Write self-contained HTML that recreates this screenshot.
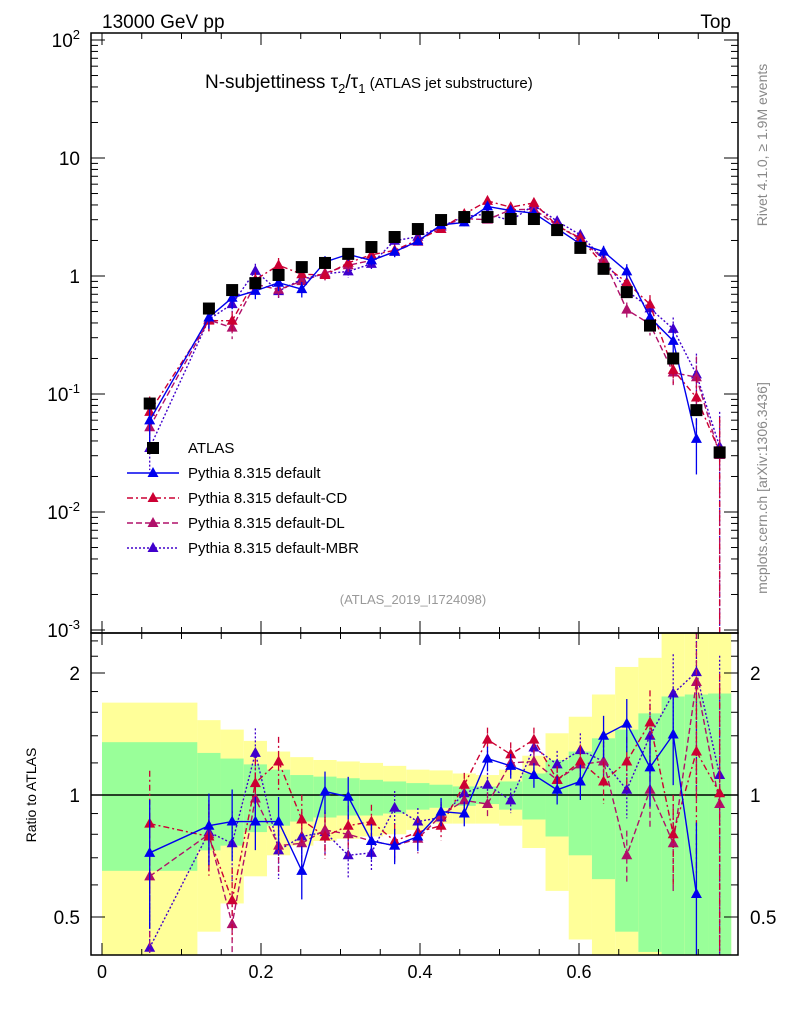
<!DOCTYPE html>
<html><head><meta charset="utf-8"><style>
html,body{margin:0;padding:0;background:#fff;overflow:hidden;width:786px;height:1024px;}
svg{display:block;overflow:hidden;}
svg text{font-family:"Liberation Sans",sans-serif;}
</style></head><body>
<svg id="c" width="786" height="1024" viewBox="0 0 786 1024" xmlns="http://www.w3.org/2000/svg">
<g id="bands"></g>
<g id="marks"></g>
<g id="axes"></g>
<text x="102" y="28" font-size="19">13000 GeV pp</text>
<text x="731" y="28" font-size="19" text-anchor="end">Top</text>
<text x="205" y="88" font-size="19">N-subjettiness τ<tspan font-size="13" dy="5">2</tspan><tspan dy="-5">/τ</tspan><tspan font-size="13" dy="5">1</tspan><tspan font-size="15" dy="-5"> (ATLAS jet substructure)</tspan></text>
<text x="413" y="604" font-size="13" fill="#999" text-anchor="middle">(ATLAS_2019_I1724098)</text>
<text transform="translate(767,145) rotate(-90)" font-size="14" fill="#888" text-anchor="middle">Rivet 4.1.0, ≥ 1.9M events</text>
<text transform="translate(767,488) rotate(-90)" font-size="14" fill="#888" text-anchor="middle">mcplots.cern.ch [arXiv:1306.3436]</text>
<text transform="translate(36,795) rotate(-90)" font-size="14" text-anchor="middle">Ratio to ATLAS</text>
<g id="legend"></g>
</svg>
<script>
const xCenters=[0.06,0.1345,0.1637,0.1929,0.2221,0.2513,0.2805,0.3097,0.3389,0.3681,0.3973,0.4265,0.4557,0.4849,0.5141,0.5433,0.5725,0.6017,0.6309,0.6601,0.6893,0.7185,0.7477,0.7769];
const atlasValues=[0.083,0.53,0.76,0.87,1.02,1.19,1.29,1.54,1.76,2.14,2.5,2.98,3.16,3.16,3.04,3.04,2.45,1.73,1.15,0.73,0.38,0.2,0.073,0.032];
const ratioDefault=[0.72,0.84,0.86,0.86,0.86,0.65,1.02,0.99,0.77,0.75,0.79,0.91,0.90,1.23,1.18,1.12,1.03,1.08,1.40,1.50,1.17,1.41,0.57,null];
const ratioCD=[0.85,0.79,0.55,1.07,1.21,0.87,0.79,0.84,0.86,0.77,0.81,0.84,1.06,1.37,1.26,1.37,1.09,1.21,1.08,1.21,1.51,0.80,1.28,1.01];
const ratioDL=[0.63,0.80,0.48,0.98,0.75,0.76,0.82,0.80,0.77,0.75,0.78,0.89,0.97,0.95,1.20,1.21,1.09,1.19,1.21,0.71,1.03,0.76,1.9,0.95];
const ratioMBR=[0.42,0.81,0.76,1.27,0.73,0.79,0.81,0.71,0.72,0.93,0.86,0.88,1.01,1.06,0.97,1.31,1.19,1.29,1.21,1.03,1.40,1.78,2.01,1.12];
const mcRelErr=[0.35,0.2,0.2,0.15,0.15,0.15,0.12,0.12,0.1,0.1,0.08,0.08,0.07,0.07,0.07,0.07,0.08,0.1,0.12,0.15,0.2,0.25,0.5,0.97];
const greenHi=[1.35,1.27,1.23,1.19,1.155,1.12,1.11,1.10,1.09,1.08,1.07,1.06,1.05,1.05,1.08,1.13,1.22,1.28,1.38,1.45,1.59,1.75,1.77,1.78];
const greenLo=[0.65,0.73,0.75,0.81,0.84,0.86,0.88,0.89,0.89,0.90,0.92,0.93,0.94,0.95,0.92,0.87,0.79,0.71,0.62,0.46,0.41,0.3,0.3,0.3];
const yellowHi=[1.69,1.53,1.45,1.36,1.28,1.24,1.22,1.21,1.20,1.18,1.155,1.15,1.13,1.12,1.155,1.25,1.42,1.56,1.77,2.07,2.18,3,3,3];
const yellowLo=[0.3,0.46,0.54,0.63,0.71,0.75,0.77,0.78,0.79,0.80,0.82,0.85,0.85,0.85,0.84,0.74,0.58,0.44,0.3,0.3,0.3,0.3,0.3,0.3];
const mainTicks=["10^2","10","1","10^-1","10^-2","10^-3"];
const ratioTicks=[2,1,0.5];
const xTicks=[0,0.2,0.4,0.6];

const NS="http://www.w3.org/2000/svg";
const L=91,R=738,MT=33,MB=633,RB=955;
const X=v=>102+795*v;
const Ym=v=>276-118*Math.log10(v);
const Yr=v=>795-122*Math.log2(v);
const cM=y=>Math.max(MT,Math.min(MB,y));
const cR=y=>Math.max(MB,Math.min(RB,y));
function el(t,a,p){const e=document.createElementNS(NS,t);for(const k in a)e.setAttribute(k,a[k]);p.appendChild(e);return e;}
const bands=document.getElementById('bands'),marks=document.getElementById('marks'),axes=document.getElementById('axes'),leg=document.getElementById('legend');
xCenters.forEach((c,i)=>{
  const lo=i==0?0:c-0.0146, hi=c+(i==0?0.06:0.0146);
  const y=el('rect',{x:X(lo),y:cR(Yr(yellowHi[i])),width:X(hi)-X(lo),height:cR(Yr(yellowLo[i]))-cR(Yr(yellowHi[i])),fill:'#ffff99'},bands);
  
  
  const g=el('rect',{x:X(lo),y:cR(Yr(greenHi[i])),width:X(hi)-X(lo),height:cR(Yr(greenLo[i]))-cR(Yr(greenHi[i])),fill:'#99ff99'},bands);
  
  
});
el('line',{x1:L,x2:R,y1:Yr(1),y2:Yr(1),stroke:'#000','stroke-width':1.5},bands);
const series=[
 {name:'default',r:ratioDefault,c:'#0000ee',d:''},
 {name:'default-CD',r:ratioCD,c:'#cc0033',d:'6,3,2,3'},
 {name:'default-DL',r:ratioDL,c:'#b0106a',d:'6,3'},
 {name:'default-MBR',r:ratioMBR,c:'#4000cc',d:'2,2'}
];
function tri(x,y,c,p,nm){const t=el('polygon',{points:`${x},${y-6} ${x-5.5},${y+4} ${x+5.5},${y+4}`,fill:c},p);return t;}
const gm=el('g',{},marks), gr=el('g',{},marks);
series.slice().reverse().forEach(s=>{
  let pm=[],pr=[];
  s.r.forEach((r,i)=>{if(r==null)return;const x=X(xCenters[i]);const v=r*atlasValues[i];const e=mcRelErr[i];
    pm.push(x+','+cM(Ym(v)));pr.push(x+','+cR(Yr(r)));
    const lo=Math.max(v*(1-e),1e-6), rlo=Math.max(r*(1-e),1e-3);
    el('line',{x1:x,x2:x,y1:cM(Ym(v*(1+e))),y2:cM(Ym(lo)),stroke:s.c,'stroke-width':1.3,'stroke-dasharray':s.d},gm);
    el('line',{x1:x,x2:x,y1:cR(Yr(r*(1+e))),y2:cR(Yr(rlo)),stroke:s.c,'stroke-width':1.3,'stroke-dasharray':s.d},gr);
    tri(x,Ym(v),s.c,gm,'marker-'+s.name);
    if(Yr(r)>MB+4&&Yr(r)<RB-4)tri(x,Yr(r),s.c,gr,'ratio-marker-'+s.name);
  });
  const a=el('polyline',{points:pm.join(' '),fill:'none',stroke:s.c,'stroke-width':1.4,'stroke-dasharray':s.d},gm);
  
  
  const b=el('polyline',{points:pr.join(' '),fill:'none',stroke:s.c,'stroke-width':1.4,'stroke-dasharray':s.d},gr);
  
  
});
atlasValues.forEach((v,i)=>{const x=X(xCenters[i]);const s=el('rect',{x:x-6,y:Ym(v)-6,width:12,height:12,fill:'#000'},gm);
  
  });
el('rect',{x:L,y:MT,width:R-L,height:MB-MT,fill:'none',stroke:'#000','stroke-width':1.5},axes);
el('rect',{x:L,y:MB,width:R-L,height:RB-MB,fill:'none',stroke:'#000','stroke-width':1.5},axes);
for(let k=0;k<=15;k++){const v=k*0.05;const x=X(v);if(x>R)break;const big=k%4==0;const len=big?12:6;
  [MT,MB].forEach(t=>el('line',{x1:x,x2:x,y1:t,y2:t+len,stroke:'#000'},axes));
  [MB,RB].forEach(b=>el('line',{x1:x,x2:x,y1:b,y2:b-len,stroke:'#000'},axes));}
xTicks.forEach(v=>{const t=el('text',{x:X(v),y:978,'font-size':18,'text-anchor':'middle'},axes);t.textContent=v==0?'0':v.toFixed(1);
  });
for(let d=-3;d<=2;d++){const y=Ym(Math.pow(10,d));
  el('line',{x1:L,x2:L+14,y1:y,y2:y,stroke:'#000'},axes);el('line',{x1:R,x2:R-14,y1:y,y2:y,stroke:'#000'},axes);
  if(d<2)for(let m=2;m<=9;m++){const yy=Ym(m*Math.pow(10,d));el('line',{x1:L,x2:L+7,y1:yy,y2:yy,stroke:'#000'},axes);el('line',{x1:R,x2:R-7,y1:yy,y2:yy,stroke:'#000'},axes);}}
mainTicks.forEach((s,i)=>{const y=Ym(Math.pow(10,2-i))+7;const t=el('text',{x:80,y:y,'font-size':19,'text-anchor':'end'},axes);
  
  const p=s.split('^');t.textContent=p[0];if(p[1]){const ts=el('tspan',{'font-size':13,dy:-8},t);ts.textContent=p[1];}});
[0.5,1,2].forEach(v=>{const y=Yr(v);el('line',{x1:L,x2:L+14,y1:y,y2:y,stroke:'#000'},axes);el('line',{x1:R,x2:R-14,y1:y,y2:y,stroke:'#000'},axes);});
[0.6,0.7,0.8,0.9,1.2,1.4,1.6,1.8,2.2,2.4].forEach(v=>{const y=Yr(v);el('line',{x1:L,x2:L+7,y1:y,y2:y,stroke:'#000'},axes);el('line',{x1:R,x2:R-7,y1:y,y2:y,stroke:'#000'},axes);});
ratioTicks.forEach(v=>{const y=Yr(v)+7;
  const a=el('text',{x:80,y:y,'font-size':19,'text-anchor':'end'},axes);a.textContent=String(v);
  const b=el('text',{x:750,y:y,'font-size':19},axes);b.textContent=String(v);});
const lg=[{n:'ATLAS'}].concat(series.map(s=>({n:'Pythia 8.315 '+s.name,s})));
lg.forEach((e,i)=>{const y=448+i*25;const g=el('g',{},leg);
  if(!e.s){el('rect',{x:147,y:y-6,width:12,height:12,fill:'#000'},g);}
  else{el('line',{x1:127,x2:179,y1:y,y2:y,stroke:e.s.c,'stroke-width':1.4,'stroke-dasharray':e.s.d},g);tri(153,y,e.s.c,g,'legend-marker');}
  const t=el('text',{x:188,y:y+5,'font-size':15},g);t.textContent=e.n;});
</script>
</body></html>
